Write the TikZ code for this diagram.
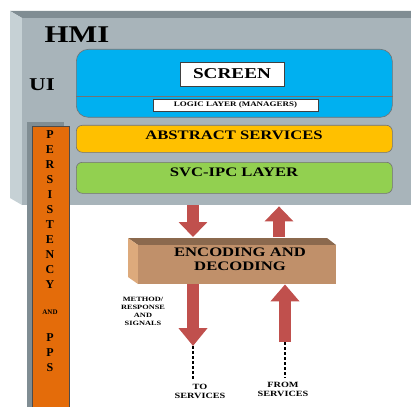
\documentclass[tikz,border=0pt]{standalone}
\usepackage{fontspec}
\setmainfont{Liberation Serif}
\usepackage{graphicx}
\usetikzlibrary{arrows.meta,positioning}

\definecolor{hmifront}{RGB}{168,180,186}
\definecolor{hmitop}{RGB}{128,141,147}
\definecolor{hmiside}{RGB}{198,209,213}
\definecolor{uiblue}{RGB}{0,176,240}
\definecolor{absorange}{RGB}{255,192,0}
\definecolor{ipcgreen}{RGB}{146,208,80}
\definecolor{persorange}{RGB}{228,108,10}
\definecolor{arrowred}{RGB}{192,80,77}
\definecolor{encfront}{RGB}{192,144,106}
\definecolor{enctop}{RGB}{139,105,78}
\definecolor{encside}{RGB}{221,170,124}

% the original lettering is stretched sideways
\newcommand{\wide}[1]{\scalebox{1.28}[1]{#1}}
\newcommand{\widelines}[1]{\scalebox{1.28}[1]{\begin{tabular}{@{}c@{}}#1\end{tabular}}}

\tikzset{
  txt/.style={inner sep=0pt, align=center, font=\bfseries},
  layerbox/.style={draw=black!55, line width=0.6pt, rounded corners=6pt, anchor=north west,
    minimum width=316pt, inner sep=0pt},
  labelbox/.style={draw=black!75, fill=white, line width=0.6pt, inner sep=0pt},
  bigarrow/.style={arrowred, line width=12pt, -{Triangle[width=28pt,length=15pt]}},
  leadline/.style={line width=1.3pt, dash pattern=on 3pt off 2pt}
}

\begin{document}
\begin{tikzpicture}[x=1pt,y=-1pt]
    \useasboundingbox (0,0) rectangle (411,406);
    % HMI slab
    \fill[hmitop] (10,11) -- (411,11) -- (411,18) -- (22,18) -- cycle;
    \fill[hmiside] (10,11) -- (22,18) -- (22,205) -- (10,198) -- cycle;
    \node[fill=hmifront, anchor=north west, minimum width=389pt, minimum height=187pt, inner sep=0pt] (hmi) at (22,18) {};
    \node[txt] (hmitxt) at (77,35) {\wide{\fontsize{24}{24}\selectfont HMI}};
    \node[txt] (uitxt) at (42,85) {\wide{\fontsize{18}{18}\selectfont UI}};

    % UI layer
    \node[layerbox, fill=uiblue, minimum height=68pt, rounded corners=12pt] (ui) at (76,49) {};
    \coordinate (uisplit) at (0,96);
    \draw[black!55, line width=0.6pt] (ui.west |- uisplit) -- (ui.east |- uisplit);
    \node[labelbox, minimum width=104pt, minimum height=24pt] (screen) at (232,74) {\wide{\fontsize{15}{15}\selectfont\bfseries SCREEN}};
    \node[labelbox, minimum width=165pt, minimum height=12pt] (logic) at (235.5,105) {\wide{\fontsize{7}{7}\selectfont\bfseries LOGIC LAYER (MANAGERS)}};

    % service layers
    \node[layerbox, fill=absorange, minimum height=27pt] (abs) at (76,125) {};
    \node[txt] (abstxt) at (234,135) {\wide{\fontsize{13}{13}\selectfont ABSTRACT SERVICES}};
    \node[layerbox, fill=ipcgreen, minimum height=31pt] (ipc) at (76,162) {};
    \node[txt] (ipctxt) at (234,172) {\wide{\fontsize{13}{13}\selectfont SVC-IPC LAYER}};

    % persistency bar
    \fill[hmitop] (27,122) rectangle (64,410);
    \node[fill=persorange, draw=black!70, line width=0.6pt, anchor=north west, minimum width=37pt, minimum height=284pt, inner sep=0pt] (pers) at (32,126) {};
    \foreach \l [count=\i] in {P,E,R,S,I,S,T,E,N,C,Y}
        \node[txt] (per\i) at (50,120+15*\i) {\fontsize{12}{12}\selectfont \l};
    \node[txt] (and) at (50,312) {\fontsize{7}{7}\selectfont AND};
    \foreach \l [count=\i] in {P,P,S}
        \node[txt] (pps\i) at (50,323+15*\i) {\fontsize{12}{12}\selectfont \l};

    % encoding block
    \fill[enctop] (128,238) -- (327,238) -- (336,245) -- (138,245) -- cycle;
    \fill[encside] (128,238) -- (138,245) -- (138,284) -- (128,277) -- cycle;
    \node[fill=encfront, anchor=north west, minimum width=198pt, minimum height=39pt, inner sep=0pt] (enc) at (138,245) {};
    \node[txt] (enctxt) at (240,261) {\fontsize{13}{14}\selectfont\widelines{ENCODING AND\\ DECODING}};

    % arrows
    \coordinate (enctopface) at (0,237);
    \coordinate (dn) at (193,0);
    \coordinate (upa) at (279,0);
    \coordinate (upb) at (285,0);
    \coordinate (toend) at (193,380);
    \coordinate (fromend) at (285,378);
    \draw[bigarrow] (hmi.south -| dn) -- (enctopface -| dn);
    \draw[bigarrow] (enctopface -| upa) -- ([yshift=-1pt]hmi.south -| upa);
    \draw[bigarrow, -{Triangle[width=28pt,length=18pt]}] (enc.south -| dn) -- (193,346) coordinate (dnend);
    \draw[bigarrow, -{Triangle[width=28pt,length=17pt]}] (285,342) coordinate (upstart) -- (enc.south -| upb);
    \draw[leadline] (dnend) -- (toend);
    \draw[leadline] (upstart) -- (fromend);

    \node[txt] (method) at (143,312) {\fontsize{6.5}{8.2}\selectfont\widelines{METHOD/\\RESPONSE\\AND\\SIGNALS}};
    \node[txt] (toserv) at (200,392) {\fontsize{8}{9}\selectfont\widelines{TO\\SERVICES}};
    \node[txt] (fromserv) at (283,390) {\fontsize{8}{9}\selectfont\widelines{FROM\\SERVICES}};
\end{tikzpicture}
\end{document}
